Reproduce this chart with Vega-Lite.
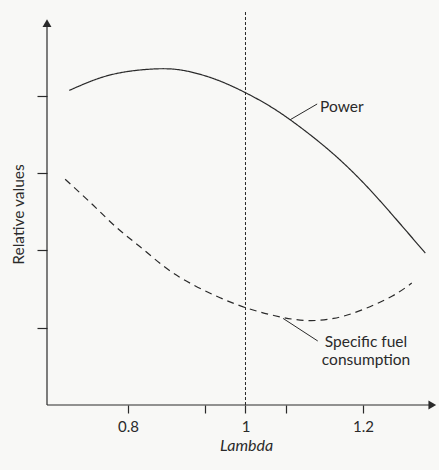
{
  "$schema": "https://vega.github.io/schema/vega-lite/v6.json",
  "width": 390,
  "height": 395,
  "autosize": "none",
  "padding": {"left": 47, "top": 10, "right": 2, "bottom": 65},
  "background": "#f8f8f6",
  "config": {"view": {"stroke": null}, "font": "Lato"},
  "datasets": {
    "axes": [
      {"x": 0.6621, "y": 0, "x2": 1.318, "y2": 0},
      {"x": 0.6621, "y": 0, "x2": 0.6621, "y2": 4.94}
    ],
    "arrowUp": [{"x": 0.6621, "y": 4.94}],
    "arrowRight": [{"x": 1.318, "y": 0}],
    "refline": [{"x": 1, "y": 0, "y2": 5.11}],
    "curves": [
      {"series": "Power", "x": 0.700, "y": 4.07},
      {"series": "Power", "x": 0.75, "y": 4.225},
      {"series": "Power", "x": 0.80, "y": 4.315},
      {"series": "Power", "x": 0.855, "y": 4.35},
      {"series": "Power", "x": 0.90, "y": 4.32},
      {"series": "Power", "x": 0.95, "y": 4.21},
      {"series": "Power", "x": 1.00, "y": 4.04},
      {"series": "Power", "x": 1.05, "y": 3.825},
      {"series": "Power", "x": 1.10, "y": 3.555},
      {"series": "Power", "x": 1.15, "y": 3.245},
      {"series": "Power", "x": 1.20, "y": 2.88},
      {"series": "Power", "x": 1.25, "y": 2.46},
      {"series": "Power", "x": 1.306, "y": 1.966},
      {"series": "Specific fuel consumption", "x": 0.693, "y": 2.92},
      {"series": "Specific fuel consumption", "x": 0.74, "y": 2.59},
      {"series": "Specific fuel consumption", "x": 0.78, "y": 2.30},
      {"series": "Specific fuel consumption", "x": 0.82, "y": 2.05},
      {"series": "Specific fuel consumption", "x": 0.86, "y": 1.80},
      {"series": "Specific fuel consumption", "x": 0.90, "y": 1.60},
      {"series": "Specific fuel consumption", "x": 0.95, "y": 1.41},
      {"series": "Specific fuel consumption", "x": 1.00, "y": 1.26},
      {"series": "Specific fuel consumption", "x": 1.05, "y": 1.155},
      {"series": "Specific fuel consumption", "x": 1.10, "y": 1.095},
      {"series": "Specific fuel consumption", "x": 1.15, "y": 1.12},
      {"series": "Specific fuel consumption", "x": 1.20, "y": 1.235},
      {"series": "Specific fuel consumption", "x": 1.25, "y": 1.41},
      {"series": "Specific fuel consumption", "x": 1.283, "y": 1.578}
    ],
    "leaders": [
      {"x": 1.076, "y": 3.69, "x2": 1.122, "y2": 3.894},
      {"x": 1.064, "y": 1.12, "x2": 1.123, "y2": 0.828}
    ],
    "labels": [
      {"label": "Power", "x": 1.127, "y": 3.855},
      {"label": "Specific fuel", "x": 1.135, "y": 0.815},
      {"label": "consumption", "x": 1.130, "y": 0.582}
    ]
  },
  "layer": [
    {
      "data": {"name": "axes"},
      "mark": {"type": "rule", "color": "#2a2a2a", "strokeWidth": 1.2},
      "encoding": {
        "x": {
          "field": "x", "type": "quantitative",
          "scale": {"domain": [0.6621, 1.326], "nice": false, "zero": false},
          "title": "Lambda",
          "axis": {
            "domain": false, "grid": false,
            "values": [0.8, 0.931, 1, 1.069, 1.2],
            "labelExpr": "datum.value == 0.8 ? '0.8' : datum.value == 1 ? '1' : datum.value == 1.2 ? '1.2' : ''",
            "tickSize": 8, "tickColor": "#2a2a2a", "tickWidth": 1.2,
            "labelFontSize": 15, "labelColor": "#2a2a2a", "labelPadding": 6, "labelFlush": false,
            "titleFontSize": 16, "titleFontStyle": "italic", "titleFontWeight": "normal",
            "titleColor": "#2a2a2a", "titlePadding": 3, "titleX": 199
          }
        },
        "y": {
          "field": "y", "type": "quantitative",
          "scale": {"domain": [0, 5.11], "nice": false},
          "title": "Relative values",
          "axis": {
            "domain": false, "grid": false,
            "values": [1, 2, 3, 4], "labels": false,
            "tickSize": 10, "tickColor": "#2a2a2a", "tickWidth": 1.2,
            "titleFontSize": 15.5, "titleFontWeight": "normal", "titleColor": "#2a2a2a",
            "titlePadding": 10, "titleY": 204
          }
        },
        "x2": {"field": "x2"},
        "y2": {"field": "y2"}
      }
    },
    {
      "data": {"name": "arrowUp"},
      "mark": {"type": "point", "shape": "triangle-up", "filled": true, "size": 80, "color": "#2a2a2a", "opacity": 1},
      "encoding": {
        "x": {"field": "x", "type": "quantitative"},
        "y": {"field": "y", "type": "quantitative"}
      }
    },
    {
      "data": {"name": "arrowRight"},
      "mark": {"type": "point", "shape": "triangle-right", "filled": true, "size": 80, "color": "#2a2a2a", "opacity": 1},
      "encoding": {
        "x": {"field": "x", "type": "quantitative"},
        "y": {"field": "y", "type": "quantitative"}
      }
    },
    {
      "data": {"name": "refline"},
      "mark": {"type": "rule", "color": "#2a2a2a", "strokeWidth": 1, "strokeDash": [3, 2]},
      "encoding": {
        "x": {"field": "x", "type": "quantitative"},
        "y": {"field": "y", "type": "quantitative"},
        "y2": {"field": "y2"}
      }
    },
    {
      "data": {"name": "curves"},
      "mark": {"type": "line", "interpolate": "natural", "color": "#2a2a2a", "strokeWidth": 1.2},
      "encoding": {
        "x": {"field": "x", "type": "quantitative"},
        "y": {"field": "y", "type": "quantitative"},
        "detail": {"field": "series"},
        "strokeDash": {
          "field": "series", "type": "nominal",
          "scale": {"domain": ["Power", "Specific fuel consumption"], "range": [[1, 0], [7, 5]]},
          "legend": null
        }
      }
    },
    {
      "data": {"name": "leaders"},
      "mark": {"type": "rule", "color": "#2a2a2a", "strokeWidth": 1},
      "encoding": {
        "x": {"field": "x", "type": "quantitative"},
        "y": {"field": "y", "type": "quantitative"},
        "x2": {"field": "x2"},
        "y2": {"field": "y2"}
      }
    },
    {
      "data": {"name": "labels"},
      "mark": {"type": "text", "align": "left", "baseline": "middle", "fontSize": 15.5, "color": "#2a2a2a"},
      "encoding": {
        "x": {"field": "x", "type": "quantitative"},
        "y": {"field": "y", "type": "quantitative"},
        "text": {"field": "label"}
      }
    }
  ]
}
